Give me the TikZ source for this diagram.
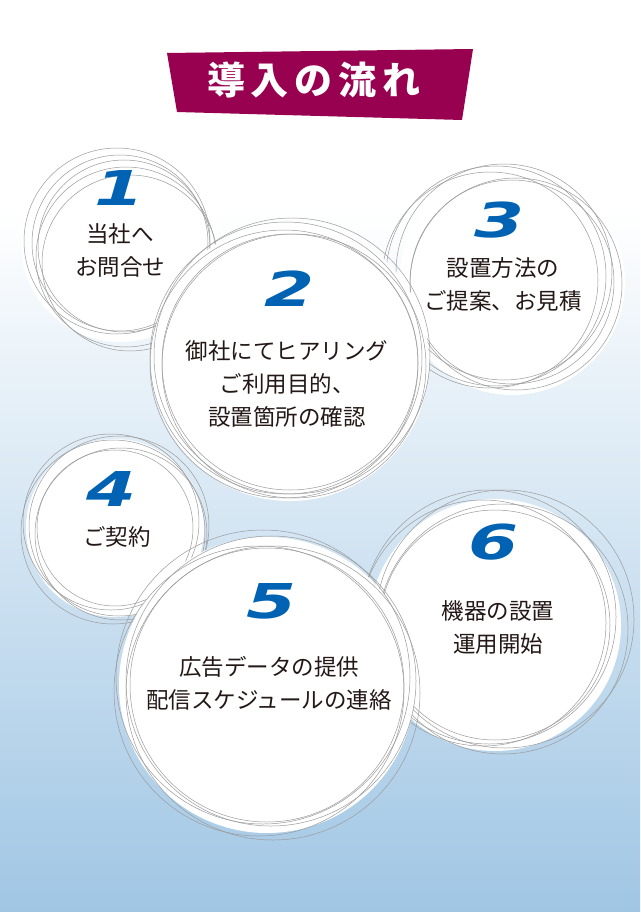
\documentclass[tikz,border=0pt]{standalone}
\usepackage{fontspec}
\usepackage{xcolor}
\usepackage{tikz}
\usetikzlibrary{positioning}
\newfontfamily\jpfont{Noto Sans CJK JP}
\newfontfamily\numfont{DejaVu Sans}[FakeStretch=1.5]
\definecolor{titlered}{RGB}{152, 0, 80}
\definecolor{stepblue}{RGB}{0, 98, 178}
\definecolor{inkdark}{RGB}{35, 24, 21}
\definecolor{ringgray}{RGB}{155, 155, 155}
\definecolor{bgblue}{RGB}{160, 198, 228}

% white disk with a bundle of thin rings: cx, cy, r, list of dx/dy/dr
\newcommand{\stepring}[4]{%
    \fill[white] (#1,#2) circle[radius={(#3+11)*1pt}];
    \foreach \dx/\dy/\dr in {#4}
        \draw[ring] ({#1+\dx},{#2+\dy}) circle[radius={(#3+\dr)*1pt}];
}

\begin{document}
\begin{tikzpicture}[
    x=1pt, y=-1pt,
    ring/.style={draw=ringgray, line width=0.5pt},
    stepnum/.style={font=\fontsize{48}{48}\selectfont\numfont\bfseries\itshape, text=stepblue, inner sep=0pt},
    steptext/.style={font=\fontsize{22.5}{33}\selectfont\jpfont, text=inkdark, align=center, inner sep=0pt},
    titletext/.style={font=\fontsize{38}{40}\selectfont\jpfont\bfseries, text=white, inner sep=0pt}
]
    \useasboundingbox (0,0) rectangle (640,912);
    \fill[white] (0,0) rectangle (640,912);
    \shade[top color=white, bottom color=bgblue] (0,210) rectangle (640,912);

    % title banner
    \fill[titlered] (167,53) -- (473,49) -- (462,120) -- (177,112) -- cycle;
    \node[titletext] (title) at (314,80) {導\hspace{6pt}入\hspace{6pt}の\hspace{6pt}流\hspace{6pt}れ};

    % rings
    \stepring{120}{243}{88}{0/0/0, -3/-2/5, 4/3/-2, 6/14/2, 10/20/0}
    \stepring{512}{282}{102}{0/0/0, -8/-10/6, -16/-6/8, -22/-2/6, 4/2/4}
    \stepring{290}{362}{128}{0/0/0, -4/-4/8, 2/-6/10, -6/2/6, 4/4/4}
    \stepring{115}{528}{78}{0/0/0, -4/-6/10, 4/-2/12, -2/4/14, 6/6/8}
    \stepring{495}{625}{115}{0/0/0, -6/-8/12, 10/-6/14, -12/-2/8, 8/4/10}
    \stepring{267}{685}{137}{0/0/0, -4/-8/10, 4/-4/8, -8/6/8, 6/8/10}

    % steps
    \node[stepnum] (num1) at (120,188) {1};
    \node[steptext] (text1) at (120,250) {当社へ\\お問合せ};

    \node[stepnum] (num2) at (290,289) {2};
    \node[steptext] (text2) at (287,384) {御社にてヒアリング\\ご利用目的、\\設置箇所の確認};

    \node[stepnum] (num3) at (500,220) {3};
    \node[steptext] (text3) at (503,284) {設置方法の\\ご提案、お見積};

    \node[stepnum] (num4) at (112,489) {4};
    \node[steptext] (text4) at (117,537) {ご契約};

    \node[stepnum] (num5) at (272,601) {5};
    \node[steptext] (text5) at (269,683) {広告データの提供\\配信スケジュールの連絡};

    \node[stepnum] (num6) at (494,542) {6};
    \node[steptext] (text6) at (498,627) {機器の設置\\運用開始};
\end{tikzpicture}
\end{document}
